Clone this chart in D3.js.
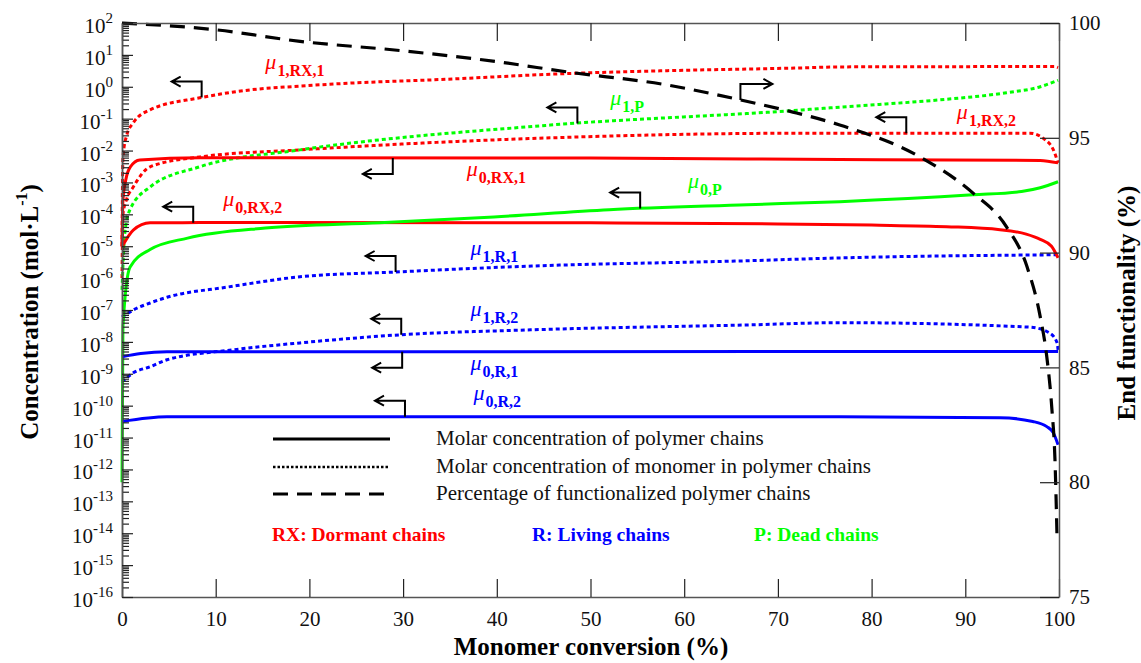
<!DOCTYPE html>
<html>
<head>
<meta charset="utf-8">
<script src="https://cdn.jsdelivr.net/npm/d3@7"></script>
<style>
body { margin: 0; background: #fff; }
svg text { font-family: "Liberation Serif", "Times New Roman", serif; }
</style>
</head>
<body>
<svg id="chart" width="1141" height="663"></svg>
<script>
// [monomer conversion %, concentration mol/L]
var mu1RX1 = [[0,1e-5],[0.1,6e-3],[0.5,3e-2],[1.2,7.4e-2],[3,0.19],[8.3,0.45],[13.7,0.8],[19,1.05],[24.3,1.3],[33.2,1.65],[47.5,2.6],[58.2,3.2],[72.4,3.9],[76.6,4.2],[99.5,4.3],[99.9,4.0]];
var mu1RX2 = [[0,1e-6],[0.1,1e-4],[0.5,3e-4],[1.2,7.2e-4],[3,3.1e-3],[8.3,6.3e-3],[19,1.05e-2],[45.7,2.5e-2],[72.4,3.5e-2],[96.9,3.5e-2],[98.5,2.2e-2],[99.4,1.05e-2],[99.9,4.1e-3]];
var mu0RX1 = [[0,1e-5],[0.1,2.8e-4],[0.4,1.2e-3],[0.9,3.1e-3],[1.9,5.1e-3],[8.3,5.9e-3],[50,5.8e-3],[76.6,5.2e-3],[98,4.9e-3],[99.9,4.1e-3]];
var mu0RX2 = [[0,9.5e-6],[1.2,3.2e-5],[3,5.4e-5],[8.3,5.5e-5],[50,5.4e-5],[70,5.0e-5],[80,4.6e-5],[88,4.1e-5],[93.7,3.3e-5],[96.5,2.4e-5],[98,1.65e-5],[99.2,1e-5],[99.9,4.3e-6]];
var mu1P = [[0,4.3e-7],[0.3,2.6e-5],[0.85,1.4e-4],[3,7.2e-4],[8.3,3.1e-3],[19,1.05e-2],[45.7,6.3e-2],[72.4,0.186],[76.6,0.23],[87.3,0.39],[94.4,0.65],[98,1.0],[99.9,1.6]];
var mu0P = [[0,4e-13],[0.1,3e-8],[0.85,2.2e-6],[3,7.9e-6],[7,1.8e-5],[15.3,3.7e-5],[27.5,5.4e-5],[39.7,8.3e-5],[52,1.4e-4],[66.7,2e-4],[76.6,2.5e-4],[90.8,4.1e-4],[96,5.2e-4],[98,6.8e-4],[99.9,1.05e-3]];
var mu1R1 = [[0,6e-8],[1.2,1e-7],[3,1.66e-7],[4.8,2.5e-7],[11.2,5.2e-7],[19,1.1e-6],[29.1,1.55e-6],[43.9,2.4e-6],[66.7,3.5e-6],[76.6,4.3e-6],[99.9,5.4e-6]];
var mu1R2 = [[0,5.6e-10],[1.2,1.07e-9],[3,1.66e-9],[4.8,2.75e-9],[11.8,5.6e-9],[19,9.3e-9],[29.6,1.66e-8],[43.9,2.4e-8],[66.7,3.4e-8],[76.6,4e-8],[96.9,2.9e-8],[99,1.9e-8],[99.8,9.3e-9],[99.9,5.6e-9]];
var mu0R1 = [[0,3.4e-9],[2,4.3e-9],[4.8,4.9e-9],[99.9,5e-9]];
var mu0R2 = [[0,3.2e-11],[4.8,4.5e-11],[76.6,4.5e-11],[93.7,4.2e-11],[97.2,3.2e-11],[98.7,2.2e-11],[99.4,1.4e-11],[99.9,5.9e-12]];
// end functionality (%), right axis
var endFunc = [[0,100],[10.1,99.7],[19,99.2],[29.7,98.8],[40.3,98.3],[47.5,97.87],[58.2,97.3],[66,96.65],[71.6,96.12],[76.6,95.56],[85.2,94.16],[90.8,92.6],[94.4,91.12],[96.6,89.37],[98,87.2],[98.7,85.45],[99.25,83.14],[99.57,80.97],[99.79,77.61]];

var xTicks = [0,10,20,30,40,50,60,70,80,90,100];
var yExps = d3.range(-16, 3);
var rightTicks = [75,80,85,90,95,100];

// annotation labels: subscript, anchor [conversion, concentration], arrow conversion, arrow direction
var labelSubs = ["1,RX,1","1,P","1,RX,2","0,RX,1","0,P","0,RX,2","1,R,1","1,R,2","0,R,1","0,R,2"];
var labelSeries = [mu1RX1, mu1P, mu1RX2, mu0RX1, mu0P, mu0RX2, mu1R1, mu1R2, mu0R1, mu0R2];
var labelAt = [[15.3,2.2],[52.1,0.16],[89.1,0.059],[36.8,9.6e-4],[60.4,4.1e-4],[10.8,1.1e-4],[37.2,3.2e-6],[37.2,4e-8],[37.2,8e-10],[37.5,9.1e-11]];
var arrowAt = [8.5,48.6,83.7,28.9,55.3,7.6,29.2,29.8,29.9,30.2];
var arrowDir = [-1,-1,-1,1,-1,-1,-1,-1,1,-1];

var legendTexts = ["Molar concentration of polymer chains","Molar concentration of monomer in polymer chains","Percentage of functionalized polymer chains"];
var chainTexts = ["RX: Dormant chains","R: Living chains","P: Dead chains"];

var RED = "#ff0000", BLUE = "#0000ff", GREEN = "#00ff00";
var DOT = "4,3", DASH = "15,9";

var svg = d3.select("#chart");
var x = d3.scaleLinear().domain([0,100]).range([122,1059]);
var y = d3.scaleLog().domain([1e-16,1e2]).range([597,23]);
var yR = d3.scaleLinear().domain([75,100]).range([597,23]);
var axisColor = "#555";

var series = [
  {d: mu1RX1, c: RED, dash: DOT},
  {d: mu1RX2, c: RED, dash: DOT},
  {d: mu1P, c: GREEN, dash: DOT},
  {d: mu1R1, c: BLUE, dash: DOT},
  {d: mu1R2, c: BLUE, dash: DOT},
  {d: mu0RX1, c: RED, dash: null},
  {d: mu0RX2, c: RED, dash: null},
  {d: mu0P, c: GREEN, dash: null},
  {d: mu0R1, c: BLUE, dash: null},
  {d: mu0R2, c: BLUE, dash: null}
];

var line = d3.line().x(function(d){ return x(d[0]); }).y(function(d){ return y(d[1]); }).curve(d3.curveMonotoneX);
var lineR = d3.line().x(function(d){ return x(d[0]); }).y(function(d){ return yR(d[1]); }).curve(d3.curveMonotoneX);

svg.selectAll("path.series").data(series).enter().append("path")
  .attr("class","series")
  .attr("d", function(s){ return line(s.d); })
  .attr("fill","none")
  .attr("stroke", function(s){ return s.c; })
  .attr("stroke-width", 3)
  .attr("stroke-dasharray", function(s){ return s.dash; });

svg.append("path").attr("d", lineR(endFunc))
  .attr("fill","none").attr("stroke","#000").attr("stroke-width",3.2)
  .attr("stroke-dasharray", DASH);

// log-space interpolation of a series at a given conversion
function valueAt(data, c){
  for (var i = 1; i < data.length; i++){
    if (data[i][0] >= c){
      var a = data[i-1], b = data[i];
      var t = (c - a[0]) / (b[0] - a[0]);
      return Math.pow(10, Math.log10(a[1]) + t*(Math.log10(b[1]) - Math.log10(a[1])));
    }
  }
  return data[data.length-1][1];
}

function drawArrow(px, py, dir, horiz){
  // vertical stem from the curve, then horizontal with arrowhead; horiz < 0 points left
  var cy = py + dir*16;
  var tx = px + horiz;
  var s = horiz < 0 ? 1 : -1;
  svg.append("path")
    .attr("d", "M"+px+","+py+"V"+cy+"H"+tx+"M"+(tx+s*9)+","+(cy-5)+"L"+tx+","+cy+"L"+(tx+s*9)+","+(cy+5))
    .attr("fill","none").attr("stroke","#000").attr("stroke-width",2);
}

var labelColors = [RED, GREEN, RED, RED, GREEN, RED, BLUE, BLUE, BLUE, BLUE];
labelSubs.forEach(function(sub, i){
  var ax = x(arrowAt[i]);
  drawArrow(ax, y(valueAt(labelSeries[i], arrowAt[i])), arrowDir[i], -30);
  var t = svg.append("text")
    .attr("x", x(labelAt[i][0])).attr("y", y(labelAt[i][1]) - 7)
    .attr("fill", labelColors[i]);
  t.append("tspan").attr("font-style","italic").attr("font-size",22).text("\u03bc");
  t.append("tspan").attr("font-weight","bold").attr("font-size",16).attr("dy",7).attr("dx",1).text(sub);
});
// arrow pointing at the right axis for the dashed curve
drawArrow(x(66), yR(valueAt(endFunc, 66)), -1, 32);

// axes
var gx = svg.append("g").attr("transform","translate(0,597)")
  .call(d3.axisBottom(x).tickValues(xTicks).tickSizeInner(-18).tickSizeOuter(0).tickPadding(14));
var gxt = svg.append("g").attr("transform","translate(0,23)")
  .call(d3.axisTop(x).tickValues(xTicks).tickSizeInner(-18).tickSizeOuter(0).tickFormat(""));
var minors = [];
yExps.slice(0,-1).forEach(function(e){ for (var k = 2; k < 10; k++) minors.push(k*Math.pow(10,e)); });
var gyMinor = svg.append("g").attr("transform","translate(122,0)")
  .call(d3.axisLeft(y).tickValues(minors).tickSizeInner(-7).tickSizeOuter(0).tickFormat(""));
var gy = svg.append("g").attr("transform","translate(122,0)")
  .call(d3.axisLeft(y).tickValues(yExps.map(function(e){ return Math.pow(10,e); })).tickSizeInner(-11).tickSizeOuter(0).tickFormat(""));
var gr = svg.append("g").attr("transform","translate(1059,0)")
  .call(d3.axisRight(yR).tickValues(rightTicks).tickSizeInner(-19).tickSizeOuter(0).tickPadding(10));

[gx, gxt, gyMinor, gy, gr].forEach(function(g){
  g.selectAll("path.domain").attr("stroke", axisColor).attr("stroke-width", 1.5);
  g.selectAll(".tick line").attr("stroke", "#222").attr("stroke-width", 1.2);
  g.selectAll("text").attr("font-family", "Liberation Serif").attr("font-size", 21).attr("fill", "#111");
});

// log-axis labels 10^n
yExps.forEach(function(e){
  var t = svg.append("text").attr("x",113).attr("y", y(Math.pow(10,e)) + 10)
    .attr("text-anchor","end").attr("font-size",21).attr("fill","#111");
  t.append("tspan").text("10");
  t.append("tspan").attr("font-size",15).attr("dy",-10).text(e);
});

// axis titles
svg.append("text").attr("x",591).attr("y",655).attr("text-anchor","middle")
  .attr("font-size",25).attr("font-weight","bold").text("Monomer conversion (%)");
var lt = svg.append("text").attr("transform","translate(38,312) rotate(-90)")
  .attr("text-anchor","middle").attr("font-size",25).attr("font-weight","bold");
lt.append("tspan").text("Concentration (mol\u00b7L");
lt.append("tspan").attr("font-size",16).attr("dy",-11).text("-1");
lt.append("tspan").attr("dy",11).text(")");
svg.append("text").attr("transform","translate(1135,303) rotate(-90)")
  .attr("text-anchor","middle").attr("font-size",25).attr("font-weight","bold").text("End functionality (%)");

// legend
var legDash = [null, "2.5,2", DASH];
var legY = [439, 467, 494];
legendTexts.forEach(function(txt, i){
  svg.append("line").attr("x1",273).attr("x2",390).attr("y1",legY[i]).attr("y2",legY[i])
    .attr("stroke","#000").attr("stroke-width", i == 1 ? 2.5 : 3).attr("stroke-dasharray", legDash[i]);
  svg.append("text").attr("x",436).attr("y",legY[i]+6).attr("font-size",21).attr("fill","#111").text(txt);
});
var chainX = [272, 532, 754];
var chainColors = [RED, BLUE, GREEN];
chainTexts.forEach(function(txt, i){
  svg.append("text").attr("x",chainX[i]).attr("y",541).attr("font-size",19.5).attr("font-weight","bold")
    .attr("fill",chainColors[i]).text(txt);
});
</script>
</body>
</html>
